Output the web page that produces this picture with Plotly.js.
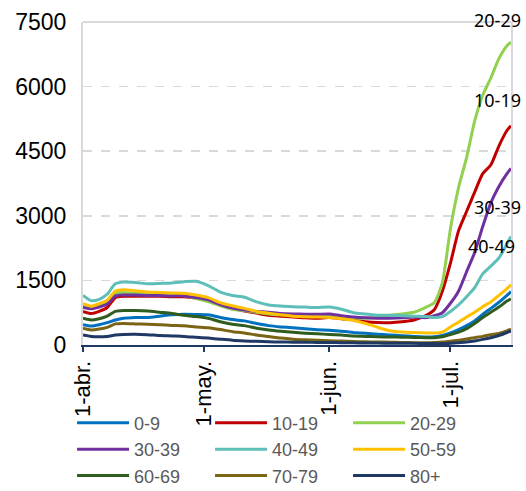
<!DOCTYPE html>
<html>
<head>
<meta charset="utf-8">
<script src="https://cdn.plot.ly/plotly-3.0.1.min.js"></script>
<style>html,body{margin:0;padding:0;background:#fff;}#chart{width:526px;height:491px;}</style>
</head>
<body>
<div id="chart"></div>
<script>
// Dates of the sampled points (2021)
var dates = ['2021-04-01','2021-04-03','2021-04-05','2021-04-07','2021-04-09','2021-04-11','2021-04-14','2021-04-17','2021-04-20','2021-04-23','2021-04-26','2021-04-29',
             '2021-05-02','2021-05-05','2021-05-08','2021-05-11','2021-05-14','2021-05-17','2021-05-20','2021-05-23','2021-05-26','2021-05-29',
             '2021-06-01','2021-06-04','2021-06-07','2021-06-10','2021-06-13','2021-06-16','2021-06-19','2021-06-22','2021-06-25','2021-06-27','2021-06-29',
             '2021-07-01','2021-07-03','2021-07-05','2021-07-07','2021-07-09','2021-07-11','2021-07-13','2021-07-15','2021-07-16'];

var groups = ['0-9','10-19','20-29','30-39','40-49','50-59','60-69','70-79','80+'];

var v0_9   = [470,440,470,520,580,620,640,640,670,700,715,710, 700,640,590,560,500,450,420,400,375,355, 340,320,290,270,250,233,215,200,186,190,220, 280,360,450,560,710,850,990,1150,1240];
var v10_19 = [780,730,780,870,1100,1130,1130,1130,1130,1120,1120,1090, 1040,930,850,790,740,690,670,650,630,620, 640,610,580,540,520,519,540,580,690,820,1250, 1900,2650,3100,3550,3980,4180,4620,4980,5090];
var v20_29 = [900,860,910,990,1200,1220,1200,1180,1170,1160,1150,1080, 1010,910,830,800,760,720,700,690,680,670, 660,640,630,620,640,690,720,760,880,980,1450, 2700,3650,4350,5200,5800,6200,6650,6950,7030];
var v30_39 = [870,840,880,950,1140,1160,1160,1150,1150,1140,1140,1100, 1050,940,860,810,780,760,730,720,715,713, 720,680,650,630,620,620,630,650,636,680,750, 970,1250,1700,2150,2750,3300,3680,3980,4100];
var v40_49 = [1150,1030,1060,1180,1420,1460,1450,1420,1430,1440,1470,1480, 1380,1230,1150,1110,1000,930,905,890,880,870, 880,830,750,720,690,690,680,670,660,640,660, 780,930,1120,1330,1650,1830,2020,2350,2520];
var v50_59 = [960,900,960,1040,1250,1280,1260,1230,1220,1210,1200,1160, 1100,985,910,850,780,740,700,670,655,650, 640,610,570,500,410,330,300,290,280,280,300, 420,530,650,760,890,1000,1150,1310,1400];
var v60_69 = [620,580,610,670,780,800,800,790,760,730,690,660, 620,540,480,450,390,350,320,295,275,260, 245,230,210,200,190,186,180,175,170,170,190, 240,300,380,500,640,760,880,1020,1070];
var v70_79 = [390,350,370,410,490,500,490,480,470,455,445,420, 400,360,310,280,230,195,160,135,120,110, 100,90,80,75,70,65,60,55,55,60,70, 90,110,140,170,200,240,270,330,370];
var v80    = [230,200,190,200,230,245,250,240,220,210,200,180, 160,135,110,95,85,75,70,65,62,60, 58,55,50,48,45,42,40,38,35,32,32, 40,55,70,95,130,170,220,290,330];

var tickDates = ['2021-04-01','2021-05-01','2021-06-01','2021-07-01'];
var tickLabels = ['1-abr.','1-may.','1-jun.','1-jul.'];
var yTicks = [0,1500,3000,4500,6000,7500];

var endLabels = ['20-29','10-19','30-39','40-49'];

var series = [v0_9,v10_19,v20_29,v30_39,v40_49,v50_59,v60_69,v70_79,v80];
var colors = ['#0070C0','#C00000','#92D050','#7030A0','#5EBFB9','#FFC000','#2E5D1F','#7A6514','#1F3864'];

var traces = series.map(function(s,i){
  return {x: dates, y: s, type:'scatter', mode:'lines', name: groups[i],
          line:{color: colors[i], width:3, shape:'spline', smoothing:0.6}};
});

var annPos = [[0.968,1.006],[0.968,0.758],[0.968,0.427],[0.955,0.307]];
var annotations = endLabels.map(function(t,i){
  return {text:t, xref:'paper', yref:'paper', x:annPos[i][0], y:annPos[i][1], showarrow:false,
          xanchor:'center', yanchor:'middle', font:{family:'Noto Sans', size:18, color:'#000'}};
});

var layout = {
  width:526, height:491,
  margin:{l:83, r:15, t:22, b:146},
  paper_bgcolor:'#fff', plot_bgcolor:'#fff',
  showlegend:true,
  legend:{orientation:'h', xref:'container', yref:'container', x:0.137, xanchor:'left', y:0.176, yanchor:'top',
          bgcolor:'rgba(0,0,0,0)',
          entrywidth:71, entrywidthmode:'pixels', itemwidth:52, tracegroupgap:0,
          font:{family:'Liberation Sans, Arial', size:18, color:'#595959'}},
  xaxis:{type:'date', range:['2021-04-01','2021-07-16'], tickmode:'array', tickvals:tickDates, ticktext:tickLabels,
         tickangle:-90, ticks:'outside', ticklen:5, tickwidth:2, tickcolor:'#1F3864',
         showline:true, linecolor:'#1F3864', linewidth:2, showgrid:false, zeroline:false, automargin:false,
         tickfont:{family:'Liberation Sans, Arial', size:22, color:'#000'}},
  yaxis:{range:[0,7500], tickmode:'array', tickvals:yTicks, ticks:'', showline:true, linecolor:'#D9D9D9', linewidth:2,
         mirror:true, showgrid:true, gridcolor:'#D9D9D9', griddash:'dash', gridwidth:1.5, zeroline:false, automargin:false,
         ticklabelstandoff:10,
         tickfont:{family:'Liberation Sans, Arial', size:23, color:'#000'}},
  shapes:[{type:'line', xref:'paper', yref:'paper', x0:0, x1:1, y0:1, y1:1, line:{color:'#D9D9D9', width:2}, layer:'below'}],
  annotations: annotations
};

Plotly.newPlot('chart', traces, layout, {displayModeBar:false, staticPlot:true});
</script>
</body>
</html>
